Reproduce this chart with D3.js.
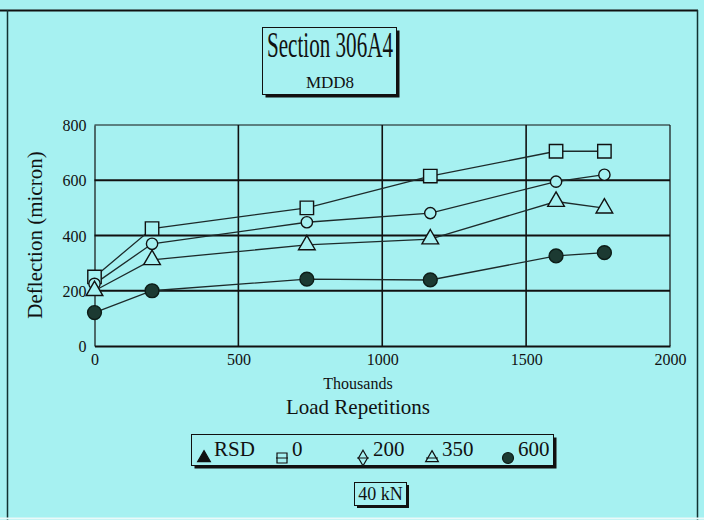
<!DOCTYPE html>
<html><head><meta charset="utf-8">
<script src="https://cdn.jsdelivr.net/npm/d3@7"></script>
<style>
html,body{margin:0;padding:0;background:#a6f1f1;}
svg{display:block;}
text{font-family:"Liberation Serif","Times New Roman",serif;fill:#111;}
</style></head><body>
<svg id="c" width="704" height="520"></svg>
<script>
const loadReps = [0, 200, 738, 1167, 1604, 1772];
const seriesNames = ["0", "200", "350", "600"];
const s0 = [250, 425, 500, 615, 705, 705];
const s200 = [225, 370, 448, 481, 595, 620];
const s350 = [200, 312, 366, 387, 523, 499];
const s600 = [121, 200, 242, 239, 326, 338];
const legendLabels = ["RSD", "0", "200", "350", "600"];
const xTicks = [0, 500, 1000, 1500, 2000];
const yTicks = [0, 200, 400, 600, 800];

const svg = d3.select("#c");
const bg = "#a6f1f1";
svg.append("rect").attr("width",704).attr("height",520).attr("fill",bg);

// outer frame
svg.append("line").attr("x1",0).attr("x2",698).attr("y1",10.5).attr("y2",10.5).attr("stroke","#111").attr("stroke-width",2);
svg.append("line").attr("x1",7.5).attr("x2",7.5).attr("y1",10).attr("y2",520).attr("stroke","#133").attr("stroke-width",1.5);
svg.append("line").attr("x1",697.5).attr("x2",697.5).attr("y1",10).attr("y2",520).attr("stroke","#133").attr("stroke-width",1.5);
svg.append("line").attr("x1",0).attr("x2",704).attr("y1",518.5).attr("y2",518.5).attr("stroke","#eafafa").attr("stroke-width",2);

const x = d3.scaleLinear().domain([0,2000]).range([94.5,670]);
const y = d3.scaleLinear().domain([0,800]).range([346,125]);

function shadowBox(x0,y0,w,h,sw){
  svg.append("rect").attr("x",x0+sw).attr("y",y0+sw).attr("width",w).attr("height",h).attr("fill","#111");
  svg.append("rect").attr("x",x0).attr("y",y0).attr("width",w).attr("height",h).attr("fill",bg).attr("stroke","#111").attr("stroke-width",1);
}
shadowBox(262.5,27.5,134,67,3);
svg.append("text").attr("x",267).attr("y",57).attr("font-size",35)
  .attr("textLength",126).attr("lengthAdjust","spacingAndGlyphs").text("Section 306A4");
svg.append("text").attr("x",330).attr("y",88).attr("font-size",17)
  .attr("text-anchor","middle").text("MDD8");

// grid
const g = svg.append("g");
g.selectAll(".hg").data(yTicks.filter(d=>d>0)).join("line")
  .attr("x1",x(0)).attr("x2",x(2000)).attr("y1",d=>y(d)).attr("y2",d=>y(d))
  .attr("stroke","#111").attr("stroke-width",d=>d===800?1.2:2);
g.selectAll(".vg").data(xTicks.filter(d=>d>0)).join("line")
  .attr("x1",d=>x(d)).attr("x2",d=>x(d)).attr("y1",y(800)).attr("y2",y(0))
  .attr("stroke","#111").attr("stroke-width",d=>d===2000?1.2:1.6);

// axes
const xAxis = d3.axisBottom(x).tickValues(xTicks).tickFormat(d3.format("d")).tickSize(0).tickPadding(8);
const yAxis = d3.axisLeft(y).tickValues(yTicks).tickFormat(d3.format("d")).tickSize(0).tickPadding(8);
const gx = svg.append("g").attr("transform",`translate(0,${y(0)})`).call(xAxis);
const gy = svg.append("g").attr("transform",`translate(${x(0)},0)`).call(yAxis);
[gx,gy].forEach(a=>{
  a.selectAll("text").attr("font-family","Lato,'Open Sans',sans-serif").attr("font-size",16).attr("fill","#111");
});
gx.select(".domain").attr("stroke","#111").attr("stroke-width",2);
gy.select(".domain").attr("stroke","#111").attr("stroke-width",1.2);
gy.selectAll("text").attr("dy","0.35em");

svg.append("text").attr("transform","translate(42,235) rotate(-90)").attr("text-anchor","middle").attr("font-size",21).text("Deflection (micron)");
svg.append("text").attr("x",358).attr("y",389).attr("text-anchor","middle").attr("font-size",16).text("Thousands");
svg.append("text").attr("x",358).attr("y",414).attr("text-anchor","middle").attr("font-size",21).text("Load Repetitions");

// series
const seriesData = [s0, s200, s350, s600];
const line = d3.line().x((d,i)=>x(loadReps[i])).y(d=>y(d));
const lineCol = "#1d2b2b";
seriesData.forEach(s=>{
  svg.append("path").datum(s).attr("d",line).attr("fill","none").attr("stroke",lineCol).attr("stroke-width",1.3);
});
const markerDefs = [
  {type:d3.symbolSquare, size:180, fill:bg, stroke:"#111"},
  {type:d3.symbolCircle, size:100, fill:bg, stroke:"#111"},
  {type:d3.symbolTriangle, size:120, fill:bg, stroke:"#111"},
  {type:d3.symbolCircle, size:150, fill:"#1c3a32", stroke:"#0d1d18"}
];
seriesData.forEach((s,k)=>{
  const m = markerDefs[k];
  svg.append("g").selectAll("path").data(s).join("path")
    .attr("transform",(d,i)=>`translate(${x(loadReps[i])},${y(d)})`)
    .attr("d",d3.symbol().type(m.type).size(m.size))
    .attr("fill",m.fill).attr("stroke",m.stroke).attr("stroke-width",1.4);
});

// legend
shadowBox(191.5,434.5,362,31,3);
const legX = [204, 282, 363, 432, 508];
const legSym = [
  {type:d3.symbolTriangle,size:70,fill:"#111",stroke:"#111"},
  {type:d3.symbolSquare,size:100,fill:bg,stroke:"#111",bar:true},
  {type:d3.symbolDiamond,size:70,fill:bg,stroke:"#111",bar:true},
  {type:d3.symbolTriangle,size:70,fill:bg,stroke:"#111",bar:true},
  {type:d3.symbolCircle,size:95,fill:"#1c3a32",stroke:"#0d1d18"}
];
legendLabels.forEach((lab,i)=>{
  const s = legSym[i];
  const gg = svg.append("g").attr("transform",`translate(${legX[i]},458)`);
  gg.append("path").attr("d",d3.symbol().type(s.type).size(s.size)).attr("fill",s.fill).attr("stroke",s.stroke).attr("stroke-width",1.2);
  if(s.bar) gg.append("line").attr("x1",-6).attr("x2",6).attr("y1",0).attr("y2",0).attr("stroke","#111").attr("stroke-width",1);
  svg.append("text").attr("x",legX[i]+10).attr("y",456).attr("font-size",21).text(lab);
});

// 40 kN box
shadowBox(354.5,482.5,52,23,2.5);
svg.append("text").attr("x",380.5).attr("y",500).attr("text-anchor","middle").attr("font-size",18).text("40 kN");
</script>
</body></html>
